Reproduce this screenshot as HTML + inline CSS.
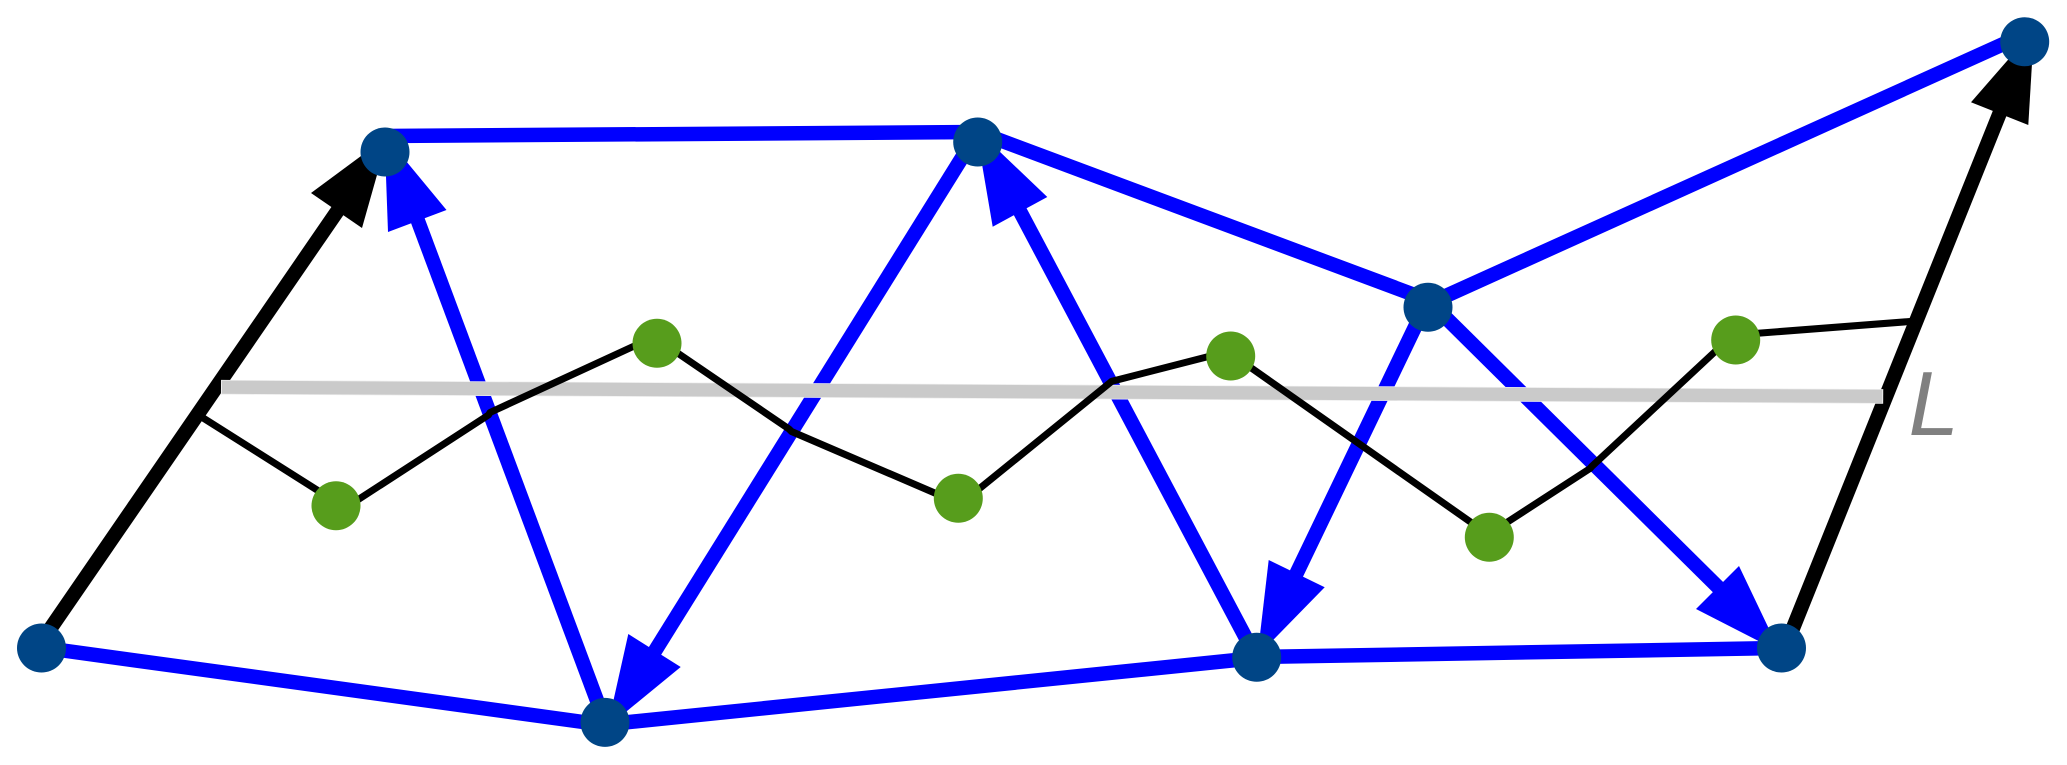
<!DOCTYPE html>
<html>
<head>
<meta charset="utf-8">
<style>
html,body{margin:0;padding:0;background:#fff;width:2067px;height:765px;overflow:hidden}
svg{display:block}
text{font-family:"Liberation Sans",sans-serif}
</style>
</head>
<body>
<svg width="2067" height="765" viewBox="0 0 2067 765" xmlns="http://www.w3.org/2000/svg">
<rect width="2067" height="765" fill="#fff"/>
<!-- blue edges -->
<g stroke="#0000ff" stroke-width="14.5" fill="none">
<line x1="41.5" y1="647.5" x2="605" y2="725"/>
<line x1="605" y1="724.5" x2="1256" y2="658"/>
<line x1="1256" y1="657" x2="1781" y2="648"/>
<line x1="385" y1="136" x2="978" y2="132"/>
<line x1="978" y1="132" x2="1428" y2="300"/>
<line x1="1428" y1="304" x2="2030" y2="32"/>
<line x1="605" y1="722" x2="412" y2="205"/>
<line x1="978" y1="132" x2="640" y2="675"/>
<line x1="1256" y1="657" x2="1014" y2="200"/>
<line x1="1428" y1="300" x2="1290" y2="587"/>
<line x1="1428" y1="300" x2="1730" y2="599"/>
</g>
<!-- blue arrowheads -->
<g fill="#0000ff">
<polygon points="384.5,135 388,232 446.5,210"/>
<polygon points="976,129 992.7,226.7 1047.3,197"/>
<polygon points="607.5,727 628.3,634 680.7,667"/>
<polygon points="1257.5,656 1268.7,560 1324.7,587.3"/>
<polygon points="1780,652 1739,566 1696,609"/>
</g>
<!-- black thick edges -->
<g stroke="#000" stroke-width="14.5" fill="none">
<line x1="37" y1="648" x2="345" y2="200"/>
<line x1="1785" y1="648" x2="2003" y2="105"/>
</g>
<g fill="#000">
<polygon points="388,136 311,193 362,228"/>
<polygon points="2034,30 1971,102.3 2028.3,125"/>
</g>
<!-- gray line L -->
<line x1="221" y1="387.2" x2="1883.2" y2="396.4" stroke="#eeeeee" stroke-width="14.6"/>
<line x1="222" y1="387.2" x2="1882.2" y2="396.4" stroke="#cacaca" stroke-width="13.2"/>
<!-- thin black polyline segments -->
<g fill="none" stroke="#000" stroke-width="7" stroke-linejoin="round">
<polyline points="200,416 336,502"/>
<polyline points="336,514 488.5,415 490,412.5 657,335.5"/>
<polyline points="657,339 789,429 791.5,431.5 958,503"/>
<polyline points="958,506 1111.5,381.5 1113,381 1230,351"/>
<polyline points="1230,353 1489,535"/>
<polyline points="1489,534 1590,468.5 1591.5,466.7 1735,333"/>
<polyline points="1735,335 1910,321.5"/>
</g>
<!-- nodes -->
<g fill="#004586">
<circle cx="41.5" cy="648" r="24.5"/>
<circle cx="385" cy="152" r="24.5"/>
<circle cx="977.7" cy="142" r="24.5"/>
<circle cx="605" cy="722.4" r="24.5"/>
<circle cx="1428" cy="307.3" r="24.5"/>
<circle cx="2024.7" cy="41.7" r="24.5"/>
<circle cx="1256.7" cy="657.3" r="24.5"/>
<circle cx="1781.5" cy="648" r="24.5"/>
</g>
<g fill="#579d1c">
<circle cx="336" cy="505.7" r="24.5"/>
<circle cx="657" cy="343.3" r="24.5"/>
<circle cx="958.3" cy="498.3" r="24.5"/>
<circle cx="1230.7" cy="356" r="24.5"/>
<circle cx="1735.7" cy="340" r="24.5"/>
<circle cx="1489.3" cy="537.3" r="24.5"/>
</g>
<text x="1908.5" y="435" font-size="91" font-style="italic" fill="#808080">L</text>
</svg>
</body>
</html>
